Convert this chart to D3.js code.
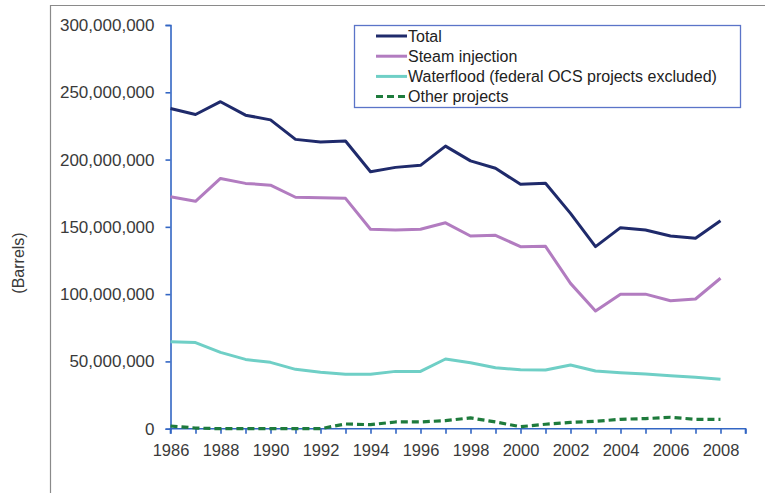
<!DOCTYPE html>
<html>
<head>
<meta charset="utf-8">
<script src="https://cdn.jsdelivr.net/npm/d3@7"></script>
<style>
  html, body { margin: 0; padding: 0; background: #fff; }
  svg { display: block; font-family: "Liberation Sans", Arial, sans-serif; }
</style>
</head>
<body>
<svg id="chart" width="765" height="493"></svg>
<script>
const years = [1986,1987,1988,1989,1990,1991,1992,1993,1994,1995,1996,1997,1998,1999,2000,2001,2002,2003,2004,2005,2006,2007,2008];
const total = [238,233.5,243,233,229.5,215,213,213.8,191,194.2,195.7,210,199,193.5,181.6,182.4,160,135.3,149.4,147.7,143.2,141.5,154.6];
const steam = [172.4,169,186,182.3,181,172,171.7,171.2,148.2,147.7,148.2,153,143.2,143.7,135.3,135.5,108,87.5,100,100,95.1,96.4,111.8];
const waterflood = [64.7,64,56.7,51.5,49.3,44.1,41.9,40.4,40.4,42.6,42.6,51.8,49,45.3,43.8,43.6,47.3,42.9,41.6,40.6,39.4,38.2,36.7];
const other = [2,0.5,0,0,0,0,0,3.5,3,5,5,6,8,5,1.5,3.3,4.7,5.5,7,7.5,8.5,7,7];
const yTicks = [0,50e6,100e6,150e6,200e6,250e6,300e6];
const xTickLabels = [1986,1988,1990,1992,1994,1996,1998,2000,2002,2004,2006,2008];
const seriesNames = ["Total","Steam injection","Waterflood (federal OCS projects excluded)","Other projects"];
const seriesColors = ["#1f2a6b","#b27cc0","#6fcfc6","#1e7b3c"];

const svg = d3.select("#chart");
const x = d3.scaleLinear().domain([1986, 2009]).range([170.5, 745.5]);
const y = d3.scaleLinear().domain([0, 300e6]).range([428.7, 25]);
const axisColor = "#3366c4";
const textColor = "#3a3a3a";

// outer frame
svg.append("path").attr("d", "M50.5,493 V5.5 H765").attr("fill","none").attr("stroke","#8a8a8a").attr("stroke-width",1.2);

// Y axis
const yAxis = svg.append("g").attr("transform", "translate(170.5,0)")
  .call(d3.axisLeft(y).tickValues(yTicks).tickSize(5).tickPadding(11).tickFormat(d3.format(",")));
yAxis.select(".domain").attr("stroke", axisColor).attr("stroke-width", 1.6);
yAxis.selectAll(".tick line").attr("stroke", axisColor).attr("stroke-width", 1.6);
yAxis.selectAll(".tick text").attr("fill", textColor).style("font-size","17px").style("font-family","'Liberation Sans', Arial, sans-serif");

// X axis
const xAxis = svg.append("g").attr("transform", "translate(0,428.7)")
  .call(d3.axisBottom(x).tickValues(d3.range(1986, 2010)).tickSize(5).tickPadding(11)
    .tickFormat(d => xTickLabels.includes(d) ? String(d) : ""));
xAxis.select(".domain").attr("stroke", axisColor).attr("stroke-width", 1.6).attr("d", "M170.5,5V0H745.5V5");
xAxis.selectAll(".tick line").attr("stroke", axisColor).attr("stroke-width", 1.6);
xAxis.selectAll(".tick text").attr("fill", textColor).style("font-size","16.5px").style("font-family","'Liberation Sans', Arial, sans-serif");

// Y label
svg.append("text").attr("transform", "translate(24,263) rotate(-90)")
  .attr("text-anchor","middle").attr("fill", textColor)
  .style("font-size","16px").text("(Barrels)");

// lines
const data = [total, steam, waterflood, other];
const line = d3.line().x((d,i) => x(years[i])).y(d => y(d * 1e6));
data.forEach((vals, k) => {
  svg.append("path").datum(vals).attr("d", line)
    .attr("fill","none").attr("stroke", seriesColors[k])
    .attr("stroke-width", k === 3 ? 3.2 : 3)
    .attr("stroke-linejoin","round")
    .attr("stroke-dasharray", k === 3 ? "7,4" : null);
});

// legend
const lg = svg.append("g");
lg.append("rect").attr("x",354.5).attr("y",25.5).attr("width",386).attr("height",82)
  .attr("fill","#fff").attr("stroke","#5b74c8").attr("stroke-width",1.3);
seriesNames.forEach((name, k) => {
  const cy = 36 + k * 20.2;
  lg.append("line").attr("x1",376).attr("x2",407).attr("y1",cy).attr("y2",cy)
    .attr("stroke", seriesColors[k]).attr("stroke-width",3)
    .attr("stroke-dasharray", k === 3 ? "7,4" : null);
  lg.append("text").attr("x",408).attr("y",cy + 5.5).attr("fill","#222")
    .style("font-size","16px").text(name);
});
</script>
</body>
</html>
